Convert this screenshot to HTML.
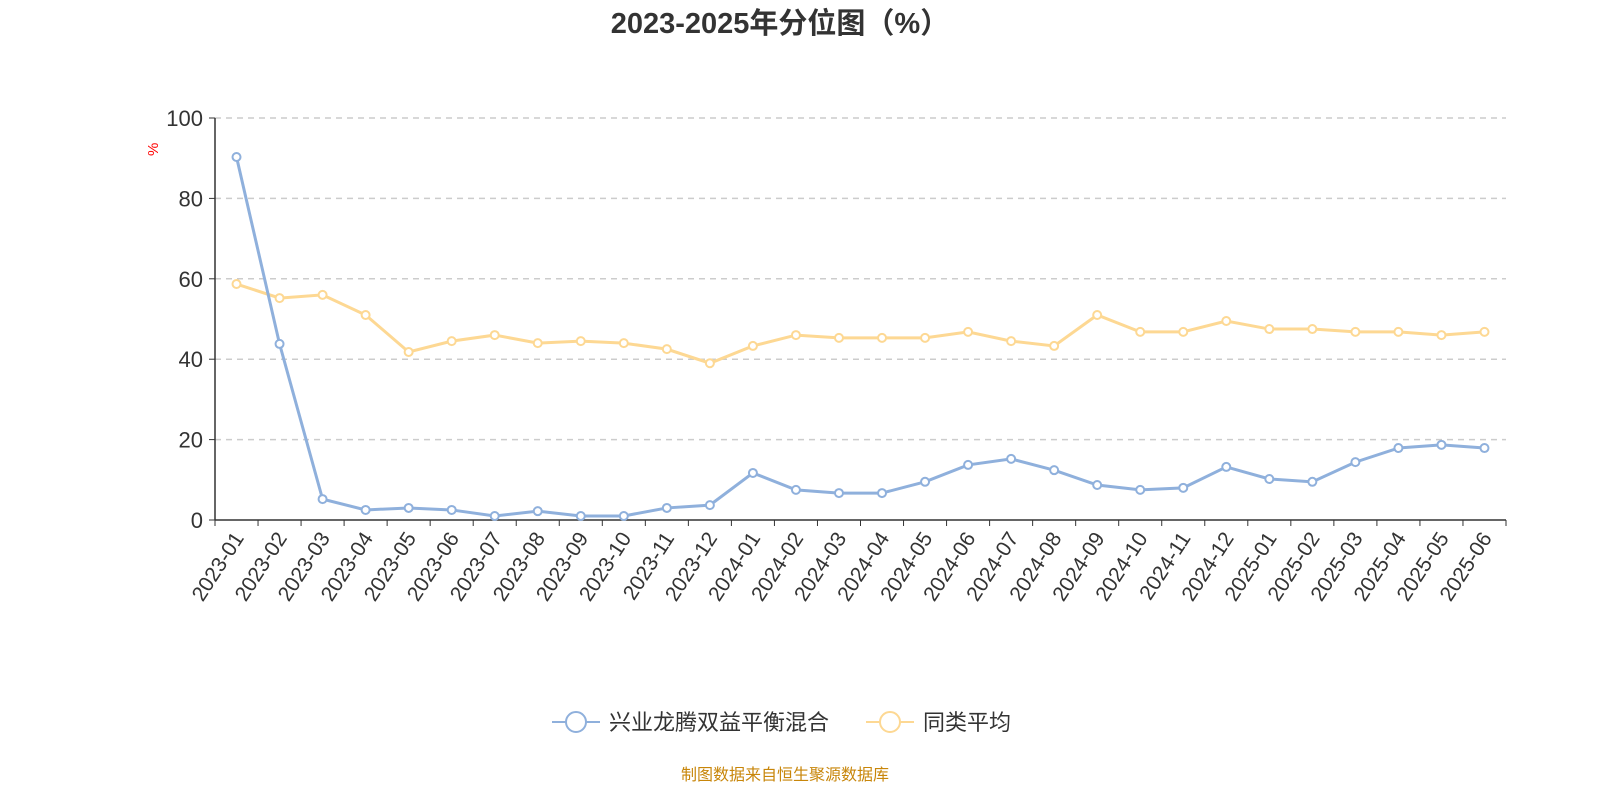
<!DOCTYPE html>
<html><head><meta charset="utf-8"><style>
body{margin:0;background:#fff;width:1600px;height:800px;overflow:hidden}
svg{font-family:"Liberation Sans","Noto Sans CJK SC",sans-serif}
</style></head><body>
<svg id="chart" width="1600" height="800">
<text x="780" y="33" text-anchor="middle" font-size="29" font-weight="bold" fill="#333">2023-2025年分位图（%）</text>
<text x="162" y="160" font-size="15" fill="red" transform="rotate(-90 158 160)">%</text>
<g id="grid"></g><g id="axes"></g><g id="series"></g>
<g>
<g>
<line x1="552" y1="722" x2="600" y2="722" stroke="#8fb0dc" stroke-width="2"/>
<circle cx="576" cy="722" r="10" fill="#fff" stroke="#8fb0dc" stroke-width="2"/>
<text x="609" y="730" font-size="22" fill="#333">兴业龙腾双益平衡混合</text></g>
<g>
<line x1="866" y1="722" x2="914" y2="722" stroke="#fdd893" stroke-width="2"/>
<circle cx="890" cy="722" r="10" fill="#fff" stroke="#fdd893" stroke-width="2"/>
<text x="923" y="730" font-size="22" fill="#333">同类平均</text></g>
</g>
<text x="785" y="780" text-anchor="middle" font-size="16" fill="#c8860a">制图数据来自恒生聚源数据库</text>
</svg>
<script>
const categories=["2023-01","2023-02","2023-03","2023-04","2023-05","2023-06","2023-07","2023-08","2023-09","2023-10","2023-11","2023-12","2024-01","2024-02","2024-03","2024-04","2024-05","2024-06","2024-07","2024-08","2024-09","2024-10","2024-11","2024-12","2025-01","2025-02","2025-03","2025-04","2025-05","2025-06"];
const fundValues=[90.3,43.8,5.2,2.5,3.0,2.5,1.0,2.2,1.0,1.0,3.0,3.7,11.7,7.5,6.7,6.7,9.5,13.7,15.2,12.4,8.7,7.5,8.0,13.2,10.2,9.5,14.4,17.9,18.7,17.9];
const avgValues=[58.7,55.2,56.0,51.0,41.8,44.5,46.0,44.0,44.5,44.0,42.5,39.0,43.3,46.0,45.3,45.3,45.3,46.8,44.5,43.3,51.0,46.8,46.8,49.5,47.5,47.5,46.8,46.8,46.0,46.8];
const yTicks=[0,20,40,60,80,100];
const NS="http://www.w3.org/2000/svg";
const X0=215,X1=1506,Y0=520,Y1=118;
const bw=(X1-X0)/categories.length;
const xs=i=>X0+bw*(i+0.5);
const ys=v=>Y0-(v/100)*(Y0-Y1);
function mk(tag,attrs,parent){const e=document.createElementNS(NS,tag);for(const k in attrs)e.setAttribute(k,attrs[k]);parent.appendChild(e);return e;}
const grid=document.getElementById('grid'),axes=document.getElementById('axes'),series=document.getElementById('series');
yTicks.forEach(t=>{
 if(t>0){const l=mk('line',{x1:X0,x2:X1,y1:ys(t),y2:ys(t),stroke:'#ccc','stroke-dasharray':'6,5','stroke-width':1.5},grid);
 
 }
 const tk=mk('line',{x1:X0-6,x2:X0,y1:ys(t),y2:ys(t),stroke:'#333'},axes);
 
 
 const tx=mk('text',{x:X0-12,y:ys(t)+8,'text-anchor':'end','font-size':22,fill:'#333'},axes);
 tx.textContent=t;
 
 
});
const ya=mk('line',{x1:X0,x2:X0,y1:Y1,y2:Y0,stroke:'#333','stroke-width':1.5},axes);


const xa=mk('line',{x1:X0,x2:X1,y1:Y0,y2:Y0,stroke:'#333','stroke-width':1.5},axes);


for(let i=0;i<=categories.length;i++){const x=X0+bw*i;const tk=mk('line',{x1:x,x2:x,y1:Y0,y2:Y0+6,stroke:'#333'},axes);
 
 }
categories.forEach((c,i)=>{const x=xs(i)+2,y=Y0+14;
 const t=mk('text',{x:x,y:y,'text-anchor':'end','font-size':21,fill:'#333',transform:`rotate(-57 ${x} ${y})`,dy:'0.35em'},axes);
 t.textContent=c;
 
 });
function draw(vals,color,name){
 const p=mk('polyline',{points:vals.map((v,i)=>xs(i)+','+ys(v)).join(' '),fill:'none',stroke:color,'stroke-width':3},series);
 
 
 vals.forEach((v,i)=>{const c=mk('circle',{cx:xs(i),cy:ys(v),r:4,fill:'#fff',stroke:color,'stroke-width':2},series);
  
  });
}
draw(avgValues,'#fdd893','category-average');
draw(fundValues,'#8fb0dc','fund');
</script>
</body></html>
